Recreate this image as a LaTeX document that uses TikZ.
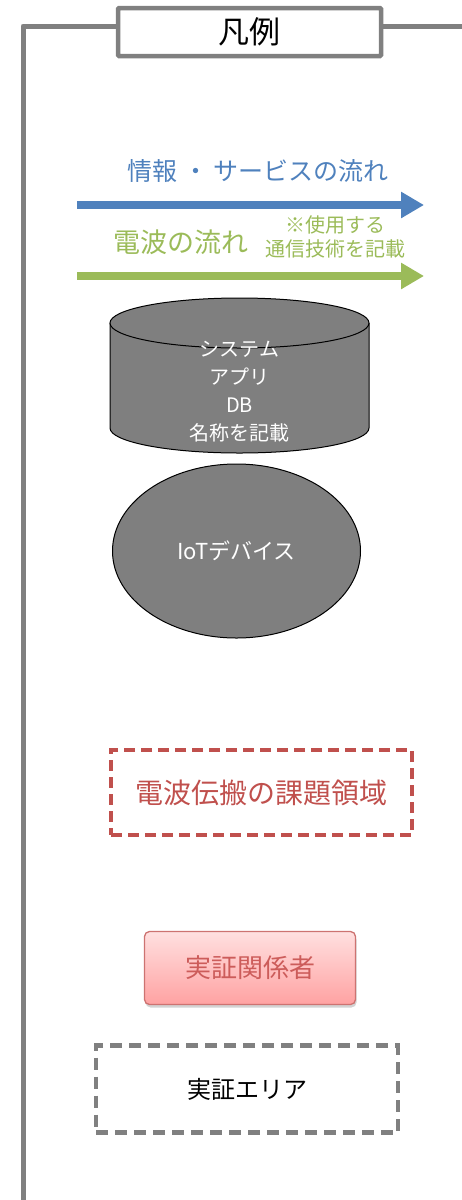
\documentclass[tikz,border=0pt]{standalone}
\usepackage{fontspec}
\setmainfont{Noto Sans CJK JP}
\usetikzlibrary{shapes.geometric,shadows,arrows.meta}
\definecolor{frameg}{HTML}{808080}
\definecolor{blu}{HTML}{4F81BD}
\definecolor{grn}{HTML}{9BBB59}
\definecolor{redd}{HTML}{C0504D}
\definecolor{cylg}{HTML}{7F7F7F}
\definecolor{pinktop}{HTML}{FFE0E0}
\definecolor{pinkbot}{HTML}{FFA2A2}
\definecolor{pinktxt}{HTML}{CC5C5A}
\tikzset{
  fs/.style={font=\fontsize{#1}{#1}\selectfont},
  flowarrow/.style={line width=8pt,-{Triangle[length=23pt,width=25pt]}},
  shapebox/.style={draw=black,fill=cylg,line width=1pt,text=white},
}
\begin{document}
\begin{tikzpicture}[x=1pt,y=1pt]
\useasboundingbox (0,0) rectangle (462,-1200);
% frame
\draw[frameg,line width=5pt,line join=round] (23,-1202) -- (23,-26) -- (118,-26);
\draw[frameg,line width=5pt] (382,-26) -- (464,-26);
\node[draw=frameg,line width=4.5pt,fill=white,rounded corners=1pt,minimum width=263pt,minimum height=48pt,fs=31,inner sep=0pt] (title) at (249.5,-32) {凡例};
% blue flow
\node[text=blu,fs=25] (bluetxt) at (258,-171) {情報 ・ サービスの流れ};
\coordinate (b1) at (77,-205);
\coordinate (b2) at (424,-205);
\draw[blu,flowarrow] (b1) -- (b2);
% green flow
\node[text=grn,fs=27] (grntxt) at (181,-242) {電波の流れ};
\node[text=grn,fs=20,align=center,inner sep=0pt] (grnnote) at (335,-237) {※使用する\\[4pt]通信技術を記載};
\coordinate (g1) at (77,-276);
\coordinate (g2) at (424,-276);
\draw[grn,flowarrow] (g1) -- (g2);
% cylinder
\draw[shapebox] (110,-323) -- (110,-428) arc[start angle=180,end angle=360,x radius=129.5pt,y radius=25pt] -- (369,-323);
\draw[shapebox] (239.5,-323) ellipse[x radius=129.5pt,y radius=25pt];
\node[text=white,fs=20,align=center,inner sep=0pt] (cyl) at (239.5,-392) {システム\\[8pt]アプリ\\[8pt]DB\\[8pt]名称を記載};
% ellipse
\node[shapebox,ellipse,minimum width=248pt,minimum height=174pt,fs=22] (iot) at (236.5,-551) {IoTデバイス};
% red dashed
\node[draw=redd,line width=4.5pt,dash pattern=on 11pt off 6pt,minimum width=301pt,minimum height=85pt,text=redd,fs=28] (area) at (261.5,-792.5) {電波伝搬の課題領域};
% pink box
\node[draw=redd!80,line width=1.3pt,rounded corners=5pt,top color=pinktop,bottom color=pinkbot,drop shadow={opacity=0.35,shadow xshift=1pt,shadow yshift=-3pt},minimum width=211pt,minimum height=73pt,text=pinktxt,fs=26] (actor) at (250,-968) {実証関係者};
% gray dashed
\node[draw=frameg,line width=4.5pt,dash pattern=on 12pt off 7pt,minimum width=302pt,minimum height=87pt,text=black,fs=24] (demo) at (247,-1089) {実証エリア};
\end{tikzpicture}
\end{document}
